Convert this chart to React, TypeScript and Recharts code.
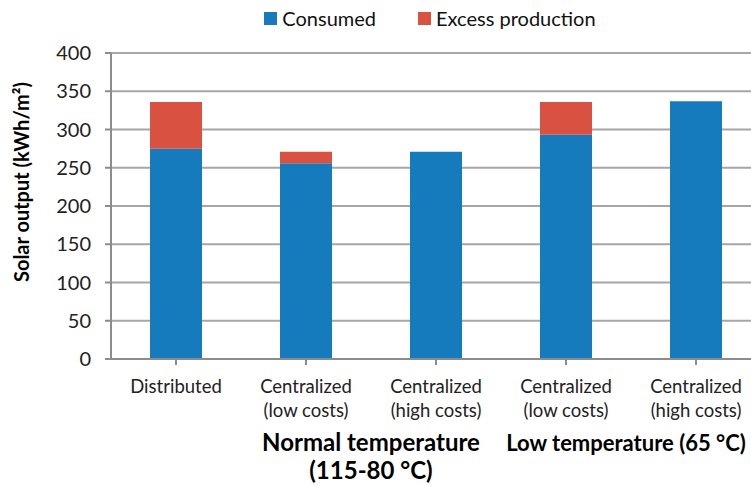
import React from "react";
import { BarChart, Bar, XAxis, YAxis, CartesianGrid } from "recharts";

const categoryLines: string[][] = [
  ["Distributed"],
  ["Centralized", "(low costs)"],
  ["Centralized", "(high costs)"],
  ["Centralized", "(low costs)"],
  ["Centralized", "(high costs)"],
];
const consumed = [275, 256, 271, 293, 337];
const excess = [61, 15, 0, 43, 0];
const yTicks = [0, 50, 100, 150, 200, 250, 300, 350, 400];
const groupLabels: { first: number; last: number; lines: string[] }[] = [
  { first: 1, last: 2, lines: ["Normal temperature", "(115-80 °C)"] },
  { first: 3, last: 4, lines: ["Low temperature (65 °C)"] },
];
const seriesNames = ["Consumed", "Excess production"];
const colors = ["#157bbd", "#d95241"];

const data = categoryLines.map((lines, i) => ({
  name: lines.join(" "),
  idx: i,
  consumed: consumed[i],
  excess: excess[i],
}));

const FONT = "Lato, 'Open Sans', sans-serif";
const CHART_W = 780;
const MARGIN = { top: 53, right: 19, left: 51, bottom: 7 };
const YAXIS_W = 60;
const BAND = (CHART_W - MARGIN.left - MARGIN.right - YAXIS_W) / categoryLines.length;
const GROUP_STYLE = [
  { fontSize: 24, dx: 0 },
  { fontSize: 22, dx: -5 },
];

const CategoryTick = (props: any) => {
  const { x, y, payload } = props;
  const i = payload.index;
  const lines = categoryLines[i] || [];
  const gi = groupLabels.findIndex((g) => g.last === i);
  const grp = gi >= 0 ? groupLabels[gi] : null;
  return (
    <g>
      {lines.map((l, k) => (
        <text key={k} x={x} y={y + 26 + k * 24} textAnchor="middle" fontSize={18.5} fill="#222" fontFamily={FONT}>
          {l}
        </text>
      ))}
      {grp &&
        grp.lines.map((l, k) => (
          <text
            key={"g" + k}
            x={x - ((grp.last - grp.first) * BAND) / 2 + GROUP_STYLE[gi].dx}
            y={y + 84 + k * 28}
            textAnchor="middle"
            fontSize={GROUP_STYLE[gi].fontSize}
            fontWeight="bold"
            fill="#000"
            fontFamily={FONT}
          >
            {l}
          </text>
        ))}
    </g>
  );
};

const LegendBox = () => (
  <div
    style={{
      position: "absolute",
      top: 6,
      left: 0,
      width: 860,
      display: "flex",
      justifyContent: "center",
      fontFamily: FONT,
      fontSize: 20,
      color: "#111",
      lineHeight: "24px",
    }}
  >
    {seriesNames.map((n, i) => (
      <div key={n} style={{ display: "flex", alignItems: "center", marginRight: i === 0 ? 42 : 0 }}>
        <span style={{ width: 13, height: 13, background: colors[i], display: "inline-block", marginRight: 5 }} />
        <span>{n}</span>
      </div>
    ))}
  </div>
);

export default function App() {
  return (
    <div style={{ position: "absolute", left: 0, top: 0, width: 751, height: 486, overflow: "hidden", background: "#fff" }}>
      <BarChart width={CHART_W} height={486} data={data} margin={MARGIN} barCategoryGap="30%">
        <CartesianGrid vertical={false} stroke="#a6a6a6" strokeWidth={2} />
        <XAxis
          dataKey="name"
          stroke="#8c8c8c"
          strokeWidth={2}
          tickSize={6}
          height={120}
          interval={0}
          tick={<CategoryTick />}
        />
        <YAxis
          domain={[0, 400]}
          ticks={yTicks}
          width={YAXIS_W}
          stroke="#8c8c8c"
          strokeWidth={2}
          tickSize={6}
          tick={{ fontSize: 20, fill: "#222", fontFamily: FONT, dx: -12 }}
          label={{
            value: "Solar output (kWh/m²)",
            angle: -90,
            position: "insideLeft",
            dx: -34,
            dy: -24,
            style: { textAnchor: "middle", fontSize: 20, fontWeight: "bold", fill: "#000", fontFamily: FONT },
          }}
        />
        <Bar dataKey="consumed" name={seriesNames[0]} stackId="a" fill={colors[0]} isAnimationActive={false} />
        <Bar dataKey="excess" name={seriesNames[1]} stackId="a" fill={colors[1]} isAnimationActive={false} />
      </BarChart>
      <LegendBox />
    </div>
  );
}
